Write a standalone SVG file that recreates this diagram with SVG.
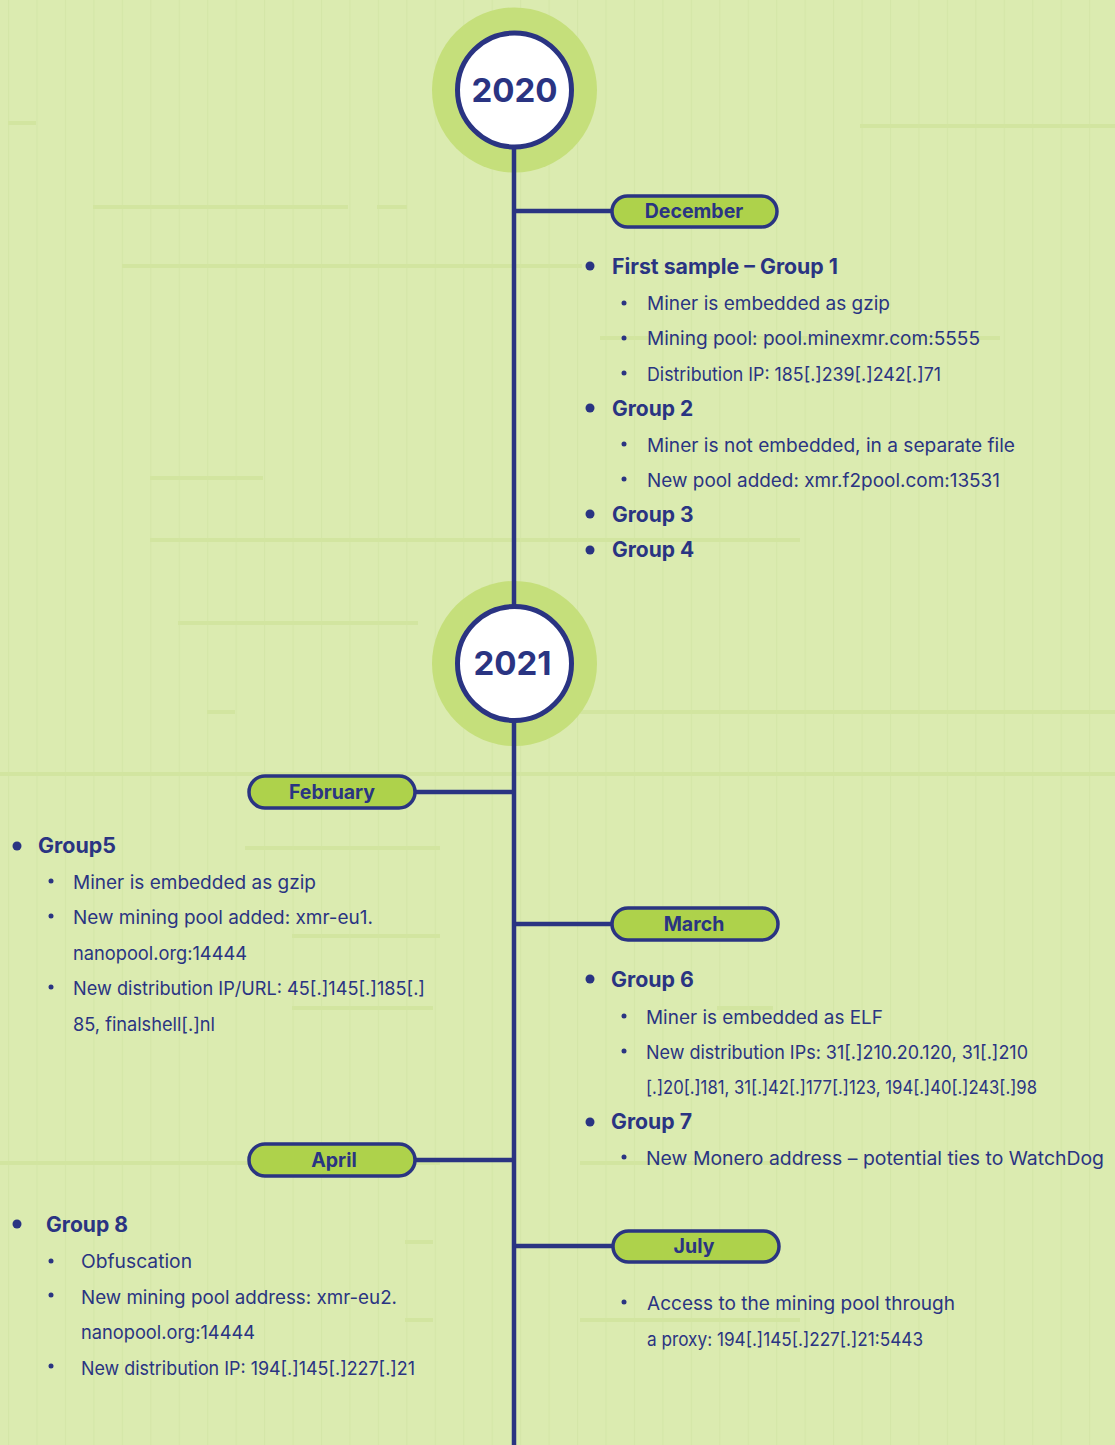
<svg xmlns="http://www.w3.org/2000/svg" width="1115" height="1445" viewBox="0 0 1115 1445">
<defs>
<pattern id="grid" x="8" y="0" width="28.45" height="1445" patternUnits="userSpaceOnUse">
<rect x="0" y="0" width="1.2" height="1445" fill="#d4e6a8"/>
</pattern>
<style>
.bg{fill:#dbebb0}
.stripe{fill:#d2e5a0}
.halo{fill:#c5df7b}
.year{fill:#ffffff;stroke:#2a3482;stroke-width:5}
.yt{font-family:Inter,"Liberation Sans",sans-serif;font-weight:700;font-size:33px;fill:#2a3482;text-anchor:middle}
.pill{fill:#aed24b;stroke:#2a3482;stroke-width:3.5}
.pt{font-family:Inter,"Liberation Sans",sans-serif;font-weight:700;font-size:19.5px;fill:#2a3482;text-anchor:middle}
.line{stroke:#2a3482;stroke-width:4.5;fill:none}
.h{font-family:Inter,"Liberation Sans",sans-serif;font-weight:700;font-size:21px;fill:#2a3482}
.t{font-family:Inter,"Liberation Sans",sans-serif;font-weight:400;font-size:18.5px;fill:#2a3482}
.bd{fill:#2a3482}
</style>
</defs>
<rect class="bg" x="0" y="0" width="1115" height="1445"/>
<rect fill="url(#grid)" x="0" y="0" width="1115" height="1445"/>
<g id="stripes">
<rect class="stripe" x="8" y="121" width="28" height="4"/>
<rect class="stripe" x="860" y="124" width="255" height="4"/>
<rect class="stripe" x="93" y="205" width="255" height="4"/>
<rect class="stripe" x="377" y="205" width="30" height="4"/>
<rect class="stripe" x="122" y="264" width="460" height="4"/>
<rect class="stripe" x="600" y="336" width="400" height="4"/>
<rect class="stripe" x="150" y="476" width="113" height="4"/>
<rect class="stripe" x="150" y="538" width="650" height="4"/>
<rect class="stripe" x="178" y="621" width="240" height="4"/>
<rect class="stripe" x="207" y="710" width="28" height="4"/>
<rect class="stripe" x="580" y="710" width="535" height="4"/>
<rect class="stripe" x="0" y="772" width="1115" height="4"/>
<rect class="stripe" x="245" y="846" width="195" height="4"/>
<rect class="stripe" x="292" y="934" width="148" height="4"/>
<rect class="stripe" x="292" y="1006" width="141" height="4"/>
<rect class="stripe" x="717" y="1006" width="56" height="4"/>
<rect class="stripe" x="0" y="1161" width="440" height="4"/>
<rect class="stripe" x="580" y="1161" width="220" height="4"/>
<rect class="stripe" x="405" y="1240" width="28" height="4"/>
<rect class="stripe" x="405" y="1318" width="28" height="4"/>
<rect class="stripe" x="580" y="1318" width="220" height="4"/>
</g>
<g id="y2020-halo"><circle class="halo" cx="514.5" cy="90" r="82.5"/></g>
<g id="y2021-halo"><circle class="halo" cx="514.5" cy="663.5" r="82.5"/></g>
<g id="connectors">
<line class="line" x1="514" y1="140" x2="514" y2="1445"/>
<line class="line" x1="514" y1="211" x2="612" y2="211"/>
<line class="line" x1="415" y1="792" x2="514" y2="792"/>
<line class="line" x1="514" y1="924" x2="612" y2="924"/>
<line class="line" x1="415" y1="1160" x2="514" y2="1160"/>
<line class="line" x1="514" y1="1246" x2="613" y2="1246"/>
</g>
<g id="y2020">
<circle class="year" cx="514.5" cy="90" r="57"/>
<text class="yt" x="514.5" y="102">2020</text>
</g>
<g id="y2021">
<circle class="year" cx="514.5" cy="663.5" r="57"/>
<text class="yt" x="512.5" y="675">2021</text>
</g>
<g id="december">
<rect class="pill" x="612" y="196" width="165" height="31" rx="15.5"/>
<text class="pt" x="694" y="218">December</text>
</g>
<g id="december-notes">
<circle class="bd" cx="590" cy="266" r="4.5"/><text class="h" x="612" y="274" textLength="226" lengthAdjust="spacingAndGlyphs">First sample – Group 1</text>
<circle class="bd" cx="624" cy="303" r="2.5"/><text class="t" x="647" y="310" textLength="243" lengthAdjust="spacingAndGlyphs">Miner is embedded as gzip</text>
<circle class="bd" cx="624" cy="338" r="2.5"/><text class="t" x="647" y="345" textLength="333" lengthAdjust="spacingAndGlyphs">Mining pool: pool.minexmr.com:5555</text>
<circle class="bd" cx="624" cy="373" r="2.5"/><text class="t" x="647" y="381" textLength="294" lengthAdjust="spacingAndGlyphs">Distribution IP: 185[.]239[.]242[.]71</text>
<circle class="bd" cx="590" cy="408" r="4.5"/><text class="h" x="612" y="416">Group 2</text>
<circle class="bd" cx="624" cy="444" r="2.5"/><text class="t" x="647" y="452" textLength="368" lengthAdjust="spacingAndGlyphs">Miner is not embedded, in a separate file</text>
<circle class="bd" cx="624" cy="479" r="2.5"/><text class="t" x="647" y="487" textLength="353" lengthAdjust="spacingAndGlyphs">New pool added: xmr.f2pool.com:13531</text>
<circle class="bd" cx="590" cy="514" r="4.5"/><text class="h" x="612" y="522">Group 3</text>
<circle class="bd" cx="590" cy="550" r="4.5"/><text class="h" x="612" y="557">Group 4</text>
</g>
<g id="february">
<rect class="pill" x="249" y="776" width="166" height="32" rx="16"/>
<text class="pt" x="332" y="799">February</text>
</g>
<g id="february-notes">
<circle class="bd" cx="17" cy="846" r="4.5"/><text class="h" x="38" y="853" textLength="78" lengthAdjust="spacingAndGlyphs">Group5</text>
<circle class="bd" cx="51" cy="881" r="2.5"/><text class="t" x="73" y="889" textLength="243" lengthAdjust="spacingAndGlyphs">Miner is embedded as gzip</text>
<circle class="bd" cx="51" cy="916" r="2.5"/><text class="t" x="73" y="924" textLength="300" lengthAdjust="spacingAndGlyphs">New mining pool added: xmr-eu1.</text>
<text class="t" x="73" y="960" textLength="174" lengthAdjust="spacingAndGlyphs">nanopool.org:14444</text>
<circle class="bd" cx="51" cy="987" r="2.5"/><text class="t" x="73" y="995" textLength="352" lengthAdjust="spacingAndGlyphs">New distribution IP/URL: 45[.]145[.]185[.]</text>
<text class="t" x="73" y="1031" textLength="142" lengthAdjust="spacingAndGlyphs">85, finalshell[.]nl</text>
</g>
<g id="march">
<rect class="pill" x="612" y="908" width="166" height="32" rx="16"/>
<text class="pt" x="694" y="931">March</text>
</g>
<g id="march-notes">
<circle class="bd" cx="590" cy="979" r="4.5"/><text class="h" x="611" y="987" textLength="83" lengthAdjust="spacingAndGlyphs">Group 6</text>
<circle class="bd" cx="624" cy="1016" r="2.5"/><text class="t" x="646" y="1024" textLength="237" lengthAdjust="spacingAndGlyphs">Miner is embedded as ELF</text>
<circle class="bd" cx="624" cy="1051" r="2.5"/><text class="t" x="646" y="1059" textLength="382" lengthAdjust="spacingAndGlyphs">New distribution IPs: 31[.]210.20.120, 31[.]210</text>
<text class="t" x="646" y="1094" textLength="391" lengthAdjust="spacingAndGlyphs">[.]20[.]181, 31[.]42[.]177[.]123, 194[.]40[.]243[.]98</text>
<circle class="bd" cx="590" cy="1122" r="4.5"/><text class="h" x="611" y="1129" textLength="81" lengthAdjust="spacingAndGlyphs">Group 7</text>
<circle class="bd" cx="624" cy="1157" r="2.5"/><text class="t" x="646" y="1165" textLength="458" lengthAdjust="spacingAndGlyphs">New Monero address – potential ties to WatchDog</text>
</g>
<g id="april">
<rect class="pill" x="249" y="1144" width="166" height="32" rx="16"/>
<text class="pt" x="334" y="1167">April</text>
</g>
<g id="april-notes">
<circle class="bd" cx="17" cy="1224" r="4.5"/><text class="h" x="46" y="1232" textLength="82" lengthAdjust="spacingAndGlyphs">Group 8</text>
<circle class="bd" cx="51" cy="1261" r="2.5"/><text class="t" x="81" y="1268" textLength="111" lengthAdjust="spacingAndGlyphs">Obfuscation</text>
<circle class="bd" cx="51" cy="1295" r="2.5"/><text class="t" x="81" y="1304" textLength="316" lengthAdjust="spacingAndGlyphs">New mining pool address: xmr-eu2.</text>
<text class="t" x="81" y="1339" textLength="174" lengthAdjust="spacingAndGlyphs">nanopool.org:14444</text>
<circle class="bd" cx="51" cy="1366" r="2.5"/><text class="t" x="81" y="1375" textLength="334" lengthAdjust="spacingAndGlyphs">New distribution IP: 194[.]145[.]227[.]21</text>
</g>
<g id="july">
<rect class="pill" x="613" y="1231" width="166" height="31" rx="15.5"/>
<text class="pt" x="694" y="1253">July</text>
</g>
<g id="july-notes">
<circle class="bd" cx="624" cy="1302" r="2.5"/><text class="t" x="647" y="1310" textLength="308" lengthAdjust="spacingAndGlyphs">Access to the mining pool through</text>
<text class="t" x="647" y="1346" textLength="276" lengthAdjust="spacingAndGlyphs">a proxy: 194[.]145[.]227[.]21:5443</text>
</g>
</svg>
